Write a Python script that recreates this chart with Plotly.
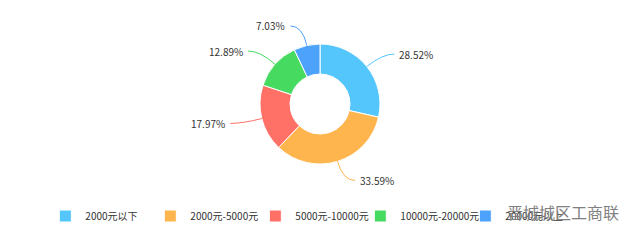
import math
import plotly.graph_objects as go

categories = ["2000元以下", "2000元-5000元", "5000元-10000元", "10000元-20000元", "20000元以上"]
values = [28.52, 33.59, 17.97, 12.89, 7.03]
colors = ["#54C6FC", "#FFB54E", "#FF7166", "#46DA60", "#4DA2FB"]

W, H = 640, 240
CX, CY, R = 320, 104, 60          # pie centre / outer radius in pixels
L1, L2, GAP = 20, 12, 3            # label line lengths

FONT = "Noto Sans CJK SC"

def px(x):
    return x / W

def py(y):
    return 1 - y / H

fig = go.Figure(go.Pie(
    labels=categories,
    values=values,
    hole=0.5,
    sort=False,
    direction="clockwise",
    rotation=0,
    marker=dict(colors=colors, line=dict(color="white", width=1)),
    textinfo="none",
    domain=dict(x=[px(CX - 2 * R), px(CX + 2 * R)], y=[py(CY + R), py(CY - R)]),
    hoverinfo="label+value",
))

# outside labels with elbow label lines, positioned from the slice angles
total = sum(values)
cum = 0.0
for v, c in zip(values, colors):
    mid = (cum + v / 2) / total * 2 * math.pi
    cum += v
    s, co = math.sin(mid), -math.cos(mid)
    x0, y0 = CX + R * s, CY + R * co
    x1, y1 = CX + (R + L1) * s, CY + (R + L1) * co
    side = 1 if s >= 0 else -1
    x2 = x1 + side * L2
    fig.add_shape(
        type="path",
        path=f"M {px(x0)} {py(y0)} Q {px(x1)} {py(y1)} {px(x2)} {py(y1)}",
        xref="paper", yref="paper",
        line=dict(color=c, width=1),
    )
    fig.add_annotation(
        text=f"{v:.2f}%", x=px(x2 + side * GAP), y=py(y1),
        xref="paper", yref="paper",
        xanchor="left" if side > 0 else "right", yanchor="middle",
        showarrow=False,
        font=dict(family=FONT, size=10, color="#333333"),
    )

fig.add_annotation(
    text="晋城城区工商联", x=px(621), y=py(212), xref="paper", yref="paper",
    xanchor="right", yanchor="middle", showarrow=False,
    font=dict(family=FONT, size=16, color="#808080"),
)

fig.update_layout(
    width=W, height=H,
    margin=dict(l=0, r=0, t=0, b=0),
    paper_bgcolor="white", plot_bgcolor="white",
    showlegend=True,
    legend=dict(orientation="h", x=0.481, xanchor="center", y=py(216), yanchor="middle",
                font=dict(family=FONT, size=10, color="#333333"),
                itemwidth=30, traceorder="normal",
                entrywidth=60, entrywidthmode="pixels"),
)

fig.write_html("out.html")
